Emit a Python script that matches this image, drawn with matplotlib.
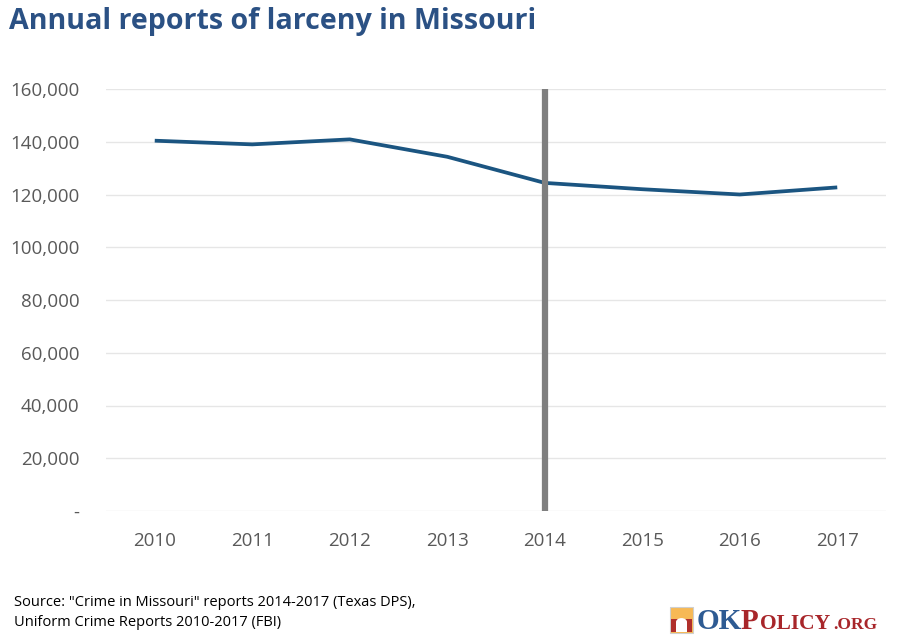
import matplotlib.pyplot as plt
from matplotlib.patches import Rectangle, Wedge
from matplotlib.ticker import FuncFormatter

years = ["2010", "2011", "2012", "2013", "2014", "2015", "2016", "2017"]
larceny = [140400, 139000, 140900, 134300, 124400, 122000, 120000, 122700]
marker_year = "2014"
y_ticks = [0, 20000, 40000, 60000, 80000, 100000, 120000, 140000, 160000]

plt.rcParams["font.family"] = ["Open Sans", "DejaVu Sans"]

fig = plt.figure(figsize=(9, 6.41), dpi=100)
ax = fig.add_axes([106 / 900, 1 - 511 / 641, 780 / 900, 422 / 641])

x = range(len(years))
ax.plot(x, larceny, color="#1b5581", linewidth=2.7, solid_capstyle="butt", zorder=3)
ax.axvline(years.index(marker_year), color="#7f7f7f", linewidth=4.5, zorder=4)

ax.set_xlim(-0.5, len(years) - 0.5)
ax.set_ylim(0, 160000)
ax.set_xticks(list(x))
ax.set_xticklabels(years)
ax.set_yticks(y_ticks)
ax.yaxis.set_major_formatter(FuncFormatter(lambda v, p: "-" if v == 0 else f"{v:,.0f}"))
ax.grid(axis="y", color="#e6e6e6", linewidth=1)
ax.set_axisbelow(True)
for s in ax.spines.values():
    s.set_visible(False)
ax.tick_params(length=0, labelsize=13.5, colors="#595959")
ax.tick_params(axis="y", pad=19)
ax.tick_params(axis="x", pad=15)

fig.text(9 / 900, 1 - 22 / 641, "Annual reports of larceny in Missouri",
         fontsize=20.6, fontweight="bold", color="#2b5184", va="center", ha="left")

fig.text(14 / 900, 1 - 602 / 641, "Source: \"Crime in Missouri\" reports 2014-2017 (Texas DPS),",
         fontsize=10.5, color="black", va="center")
fig.text(14 / 900, 1 - 622 / 641, "Uniform Crime Reports 2010-2017 (FBI)",
         fontsize=10.5, color="black", va="center")

# logo (pixel positions converted to figure fractions)
def fx(px):
    return px / 900


def fy(py):
    return 1 - py / 641


fig.patches.append(Rectangle((fx(670), fy(633)), 23 / 900, 26 / 641,
                             transform=fig.transFigure, facecolor="#f7b955",
                             edgecolor="#cfcfcf", linewidth=0.8))
fig.patches.append(Rectangle((fx(671), fy(632)), 21 / 900, 13 / 641,
                             transform=fig.transFigure, facecolor="#b0302c",
                             edgecolor="none"))
fig.patches.append(Rectangle((fx(676), fy(632)), 11 / 900, 10 / 641,
                             transform=fig.transFigure, facecolor="white",
                             edgecolor="none"))
fig.patches.append(Wedge((fx(681.5), fy(622)), 5.5 / 900, 0, 180,
                         transform=fig.transFigure, facecolor="white",
                         edgecolor="none"))

logo_font = "Liberation Serif"
fig.text(fx(697), fy(629), "OK", fontsize=21, color="#2e5b93",
         family=logo_font, va="baseline", fontweight="bold")
fig.text(fx(741), fy(629), "P", fontsize=21, color="#a8262a",
         family=logo_font, va="baseline", fontweight="bold")
fig.text(fx(760), fy(629), "OLICY", fontsize=15.5, color="#a8262a",
         family=logo_font, va="baseline", fontweight="bold")
fig.text(fx(833), fy(629), ".ORG", fontsize=12.5, color="#a8262a",
         family=logo_font, va="baseline", fontweight="bold")

fig.savefig("out.png", dpi=100)
